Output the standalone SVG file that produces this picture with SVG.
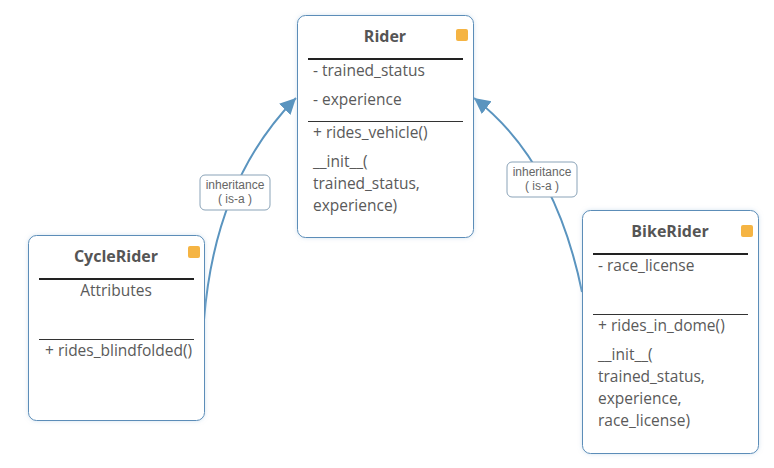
<svg xmlns="http://www.w3.org/2000/svg" width="774" height="468" viewBox="0 0 774 468">
<style>
.box{fill:#fff;stroke:#5b8db8;stroke-width:1;filter:url(#sh)}
.tag{fill:#f5b443}
.title{font-family:"Open Sans",sans-serif;font-size:16px;font-weight:bold;fill:#555;text-anchor:middle}
.t{font-family:"Open Sans",sans-serif;font-size:15.5px;fill:#5a5a5a}
.thick{stroke:#222;stroke-width:2}
.thin{stroke:#333;stroke-width:1}
.conn{fill:none;stroke:#5a94bf;stroke-width:2}
.lbl{fill:#fff;stroke:#8aa3b8;stroke-width:1}
.lt{font-family:"Liberation Sans",Arial,sans-serif;font-size:12px;fill:#666;text-anchor:middle}
</style>
<defs>
<filter id="sh" x="-10%" y="-10%" width="120%" height="120%">
<feDropShadow dx="0" dy="0" stdDeviation="2" flood-color="#aac8e0" flood-opacity="0.5"/>
</filter>
<marker id="arr" markerUnits="userSpaceOnUse" markerWidth="17" markerHeight="17" refX="16" refY="8" orient="auto">
<path d="M0,0 L16,8 L0,16 z" fill="#5a94bf"/>
</marker>
</defs>
<rect width="774" height="468" fill="#fff"/>
<g id="connectors">
<path class="conn" d="M204,320 Q215,180 296,98" marker-end="url(#arr)"/>
<path class="conn" d="M582,292 Q555,160 474,98" marker-end="url(#arr)"/>
<rect class="lbl" x="200" y="175" width="70" height="35" rx="5"/>
<text class="lt" x="235" y="189">inheritance</text>
<text class="lt" x="235" y="203">( is-a )</text>
<rect class="lbl" x="507" y="162" width="70" height="35" rx="5"/>
<text class="lt" x="542" y="176">inheritance</text>
<text class="lt" x="542" y="190">( is-a )</text>
</g>
<g id="Rider">
<rect class="box" x="297.5" y="15.5" width="176" height="222" rx="8"/>
<rect class="tag" x="456" y="29" width="12" height="12" rx="2"/>
<text class="title" x="385" y="42">Rider</text>
<line class="thick" x1="308" y1="59" x2="463" y2="59"/>
<text class="t" x="313" y="76">- trained_status</text>
<text class="t" x="313" y="105">- experience</text>
<line class="thin" x1="308" y1="121.5" x2="463" y2="121.5"/>
<text class="t" x="313" y="138">+ rides_vehicle()</text>
<text class="t" x="313" y="167">__init__(</text>
<text class="t" x="313" y="189">trained_status,</text>
<text class="t" x="313" y="211">experience)</text>
</g>
<g id="CycleRider">
<rect class="box" x="28.5" y="235.5" width="176" height="185" rx="8"/>
<rect class="tag" x="188" y="246" width="12" height="12" rx="2"/>
<text class="title" x="116" y="262">CycleRider</text>
<line class="thick" x1="39" y1="279" x2="194" y2="279"/>
<text class="t" x="116" y="296" text-anchor="middle">Attributes</text>
<line class="thin" x1="39" y1="339.5" x2="194" y2="339.5"/>
<text class="t" x="45" y="356">+ rides_blindfolded()</text>
</g>
<g id="BikeRider">
<rect class="box" x="582.5" y="210.5" width="176" height="243" rx="8"/>
<rect class="tag" x="741" y="225" width="12" height="12" rx="2"/>
<text class="title" x="670" y="237">BikeRider</text>
<line class="thick" x1="593" y1="254" x2="748" y2="254"/>
<text class="t" x="598" y="271">- race_license</text>
<line class="thin" x1="593" y1="314.5" x2="748" y2="314.5"/>
<text class="t" x="598" y="331">+ rides_in_dome()</text>
<text class="t" x="598" y="360">__init__(</text>
<text class="t" x="598" y="382">trained_status,</text>
<text class="t" x="598" y="404">experience,</text>
<text class="t" x="598" y="426">race_license)</text>
</g>
</svg>
